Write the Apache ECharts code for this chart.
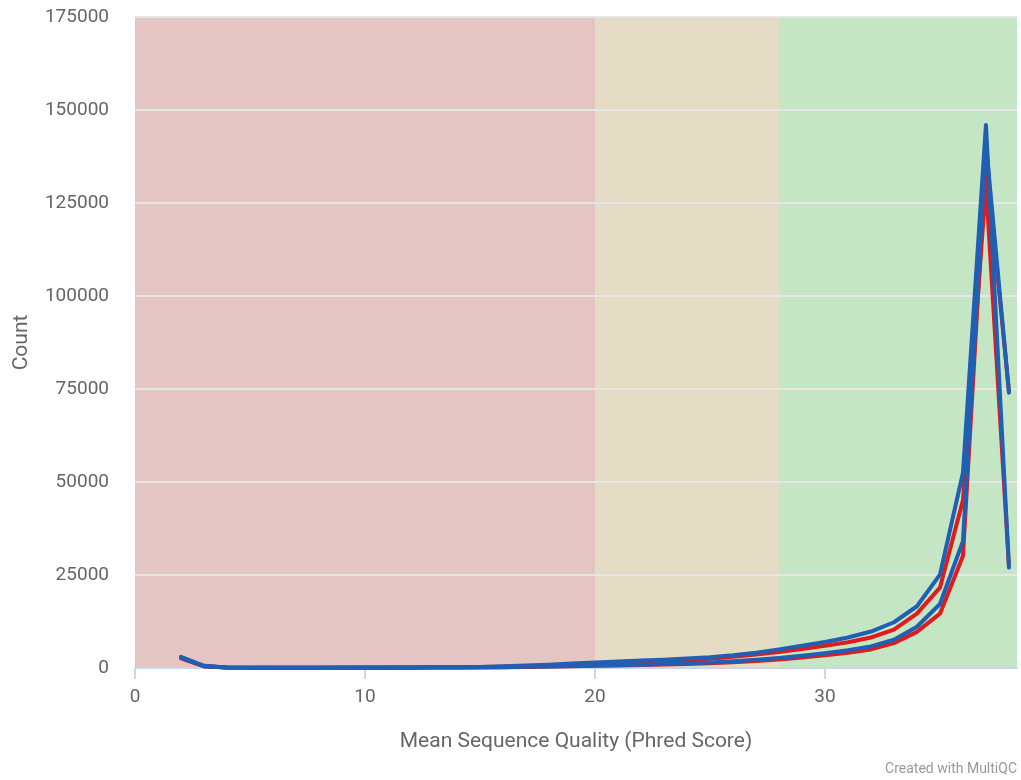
<!DOCTYPE html>
<html>
<head>
<meta charset="utf-8">
<script src="https://cdn.jsdelivr.net/npm/echarts@6/dist/echarts.min.js"></script>
<style>
html,body{margin:0;padding:0;background:#fff;}
#chart{width:1021px;height:780px;}
</style>
</head>
<body>
<div id="chart"></div>
<script>
// Mean sequence quality (Phred score) positions
const phred = [2,3,4,5,6,7,8,9,10,11,12,13,14,15,16,17,18,19,20,21,22,23,24,25,26,27,28,29,30,31,32,33,34,35,36,37,38];
// Counts per sample
const sampleBlueA = [2800,500,150,100,90,90,100,110,120,140,160,190,230,300,450,650,900,1200,1500,1750,2000,2250,2550,2900,3400,4100,5000,6000,7000,8200,9800,12300,16600,25100,52500,146000,27000];
const sampleRedA  = [2600,450,140,95,85,85,95,100,110,125,145,170,200,250,330,450,620,850,1100,1300,1500,1800,2100,2500,3000,3600,4300,5100,6000,6900,8200,10300,14600,21600,45100,130000,27500];
const sampleBlueB = [3000,600,150,100,80,80,85,90,95,100,110,120,130,170,230,310,420,550,680,780,900,1050,1250,1500,1800,2200,2700,3300,4000,4800,5800,7600,11100,17200,34100,141000,74000];
const sampleRedB  = [2700,500,140,90,75,75,80,85,90,95,100,110,120,150,200,270,370,480,590,680,790,920,1100,1300,1550,1900,2300,2800,3400,4100,5000,6700,9700,14600,30100,137000,74500];
// Quality bands
const bandLimits = [[0,20],[20,28],[28,38.35]];
const bandColors = ['#e5c4c4','#e5dcc5','#c4e6c4'];
const xTicks = [0,10,20,30];

const pairs = arr => phred.map((x,i)=>[x,arr[i]]);
const BLUE = '#1f5fb4', RED = '#e31a1c';
function lineSeries(name, arr, color){
  return {name:name,type:'line',data:pairs(arr),symbol:'none',z:3,
    lineStyle:{color:color,width:4,join:'round',cap:'round'},itemStyle:{color:color},animation:false};
}

const chart = echarts.init(document.getElementById('chart'));
chart.setOption({
  animation:false,
  backgroundColor:'#ffffff',
  textStyle:{fontFamily:'Roboto, "Liberation Sans", sans-serif'},
  grid:{left:135,right:4,top:17,bottom:112},
  graphic:[{type:'text',right:4,bottom:4,style:{text:'Created with MultiQC',fill:'#999999',font:'14px Roboto, sans-serif'}}],
  xAxis:{type:'value',min:0,max:38.35,interval:10,z:2,
    name:'Mean Sequence Quality (Phred Score)',nameLocation:'middle',nameGap:63,
    nameTextStyle:{color:'#666666',fontSize:21},
    axisLine:{show:true,lineStyle:{color:'#ccd6eb',width:2}},
    axisTick:{show:true,length:11,customValues:xTicks,lineStyle:{color:'#ccd6eb',width:2}},
    axisLabel:{customValues:xTicks,color:'#666666',fontSize:19,margin:20},
    splitLine:{show:false}},
  yAxis:{type:'value',min:0,max:175000,interval:25000,z:2,
    name:'Count',nameLocation:'middle',nameGap:103,
    nameTextStyle:{color:'#666666',fontSize:21},
    axisLine:{show:false},axisTick:{show:false},
    axisLabel:{color:'#666666',fontSize:19,margin:26,formatter:v=>String(v)},
    splitLine:{show:true,lineStyle:{color:'#e6e6e6',width:2}}},
  series:[
    {type:'line',data:[],z:1,silent:true,
      markArea:{silent:true,data:bandLimits.map((b,i)=>[{xAxis:b[0],itemStyle:{color:bandColors[i],opacity:1}},{xAxis:b[1]}])}},
    lineSeries('Sample 2',sampleRedA,RED),
    lineSeries('Sample 4',sampleRedB,RED),
    lineSeries('Sample 1',sampleBlueA,BLUE),
    lineSeries('Sample 3',sampleBlueB,BLUE)
  ]
});
</script>
</body>
</html>
